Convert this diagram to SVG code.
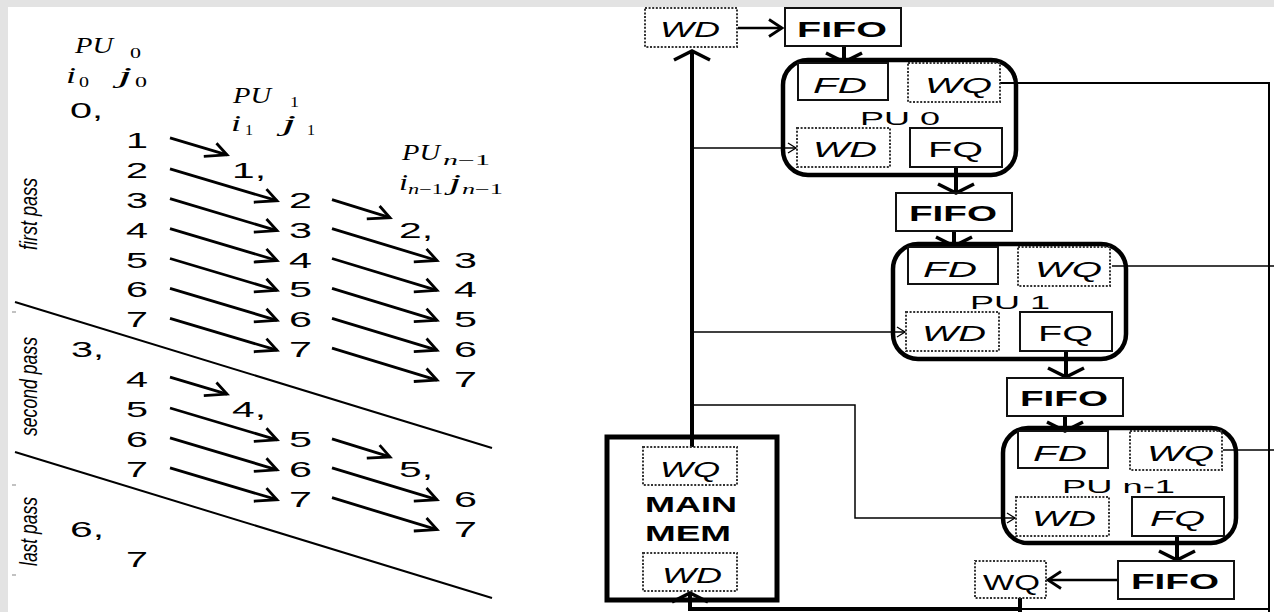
<svg xmlns="http://www.w3.org/2000/svg" width="1274" height="612" viewBox="0 0 1274 612">
<style>
.num{font-family:"Liberation Sans",Arial,sans-serif;font-size:22px;fill:#000}
.math{font-family:"Liberation Serif","Times New Roman",serif;font-style:italic;font-size:23px;fill:#000}
.sub{font-family:"Liberation Serif","Times New Roman",serif;font-size:14px;fill:#000}
.lbl{font-family:"Liberation Sans",Arial,sans-serif;font-style:italic;font-size:24px;fill:#000}
.it{font-family:"Liberation Sans",Arial,sans-serif;font-style:italic;font-size:22px;fill:#000}
.rg{font-family:"Liberation Sans",Arial,sans-serif;font-size:22px;fill:#000}
.pul{font-family:"Liberation Sans",Arial,sans-serif;font-size:19px;fill:#000}
.bd{font-family:"Liberation Sans",Arial,sans-serif;font-weight:bold;font-size:22px;fill:#000}
.dot{fill:none;stroke:#333;stroke-width:2;stroke-dasharray:2 1.6}
.solid{fill:none;stroke:#111;stroke-width:2}
.pu{fill:none;stroke:#000;stroke-width:4.5}
.mem{fill:none;stroke:#000;stroke-width:5}
.thick{fill:none;stroke:#000;stroke-width:4}
.thin{fill:none;stroke:#000;stroke-width:1.5}
.arr{fill:none;stroke:#000;stroke-width:2.8;marker-end:url(#la)}
.sep{fill:none;stroke:#000;stroke-width:2}
</style>
<defs>
<marker id="la" markerUnits="userSpaceOnUse" orient="auto" overflow="visible" refX="0" refY="0" markerWidth="1" markerHeight="1"><path d="M-13.4,-8.1 L0,0 L-21.8,8.1" fill="none" stroke="#000" stroke-width="2.8"/></marker>
<marker id="vh" markerUnits="userSpaceOnUse" orient="auto" overflow="visible" refX="0" refY="0" markerWidth="1" markerHeight="1"><path d="M-9,-18 L0,0 L-9,18" fill="none" stroke="#000" stroke-width="3.5"/></marker>
<marker id="hh" markerUnits="userSpaceOnUse" orient="auto" overflow="visible" refX="0" refY="0" markerWidth="1" markerHeight="1"><path d="M-13,-8.5 L0,0 L-13,8.5" fill="none" stroke="#000" stroke-width="2.8"/></marker>
<marker id="sh" markerUnits="userSpaceOnUse" orient="auto" overflow="visible" refX="0" refY="0" markerWidth="1" markerHeight="1"><path d="M-8,-5 L0,0 L-8,5" fill="none" stroke="#000" stroke-width="1.3"/></marker>
</defs>
<rect x="0" y="0" width="1274" height="612" fill="#e3e3e3"/>
<rect x="8" y="7" width="1266" height="605" fill="#fff"/>

<g id="schedule">
<g id="headers">
<text class="math" x="75" y="53" textLength="38" lengthAdjust="spacingAndGlyphs">PU</text>
<text class="sub" x="130" y="58" textLength="11" lengthAdjust="spacingAndGlyphs">0</text>
<text class="math" x="66" y="83" textLength="10" lengthAdjust="spacingAndGlyphs">i</text>
<text class="sub" x="79" y="87" textLength="10" lengthAdjust="spacingAndGlyphs">0</text>
<text class="math" x="118" y="83" textLength="14" lengthAdjust="spacingAndGlyphs">j</text>
<text class="sub" x="135" y="87" textLength="12" lengthAdjust="spacingAndGlyphs">0</text>
<text class="math" x="233" y="103" textLength="38" lengthAdjust="spacingAndGlyphs">PU</text>
<text class="sub" x="290" y="107" textLength="9" lengthAdjust="spacingAndGlyphs">1</text>
<text class="math" x="231" y="131" textLength="10" lengthAdjust="spacingAndGlyphs">i</text>
<text class="sub" x="245" y="135" textLength="8" lengthAdjust="spacingAndGlyphs">1</text>
<text class="math" x="282" y="131" textLength="14" lengthAdjust="spacingAndGlyphs">j</text>
<text class="sub" x="307" y="135" textLength="8" lengthAdjust="spacingAndGlyphs">1</text>
<text class="math" x="402" y="160" textLength="38" lengthAdjust="spacingAndGlyphs">PU</text>
<text class="sub" x="443" y="165" textLength="47" lengthAdjust="spacingAndGlyphs"><tspan font-style="italic">n</tspan>−1</text>
<text class="math" x="399" y="190" textLength="9" lengthAdjust="spacingAndGlyphs">i</text>
<text class="sub" x="408" y="194" textLength="35" lengthAdjust="spacingAndGlyphs"><tspan font-style="italic">n</tspan>−1</text>
<text class="math" x="449" y="190" textLength="12" lengthAdjust="spacingAndGlyphs">j</text>
<text class="sub" x="462" y="194" textLength="41" lengthAdjust="spacingAndGlyphs"><tspan font-style="italic">n</tspan>−1</text>
</g>
<g id="passes">
<text class="lbl" transform="translate(37,250) rotate(-90)" textLength="72" lengthAdjust="spacingAndGlyphs">first pass</text>
<text class="lbl" transform="translate(37,436) rotate(-90)" textLength="99" lengthAdjust="spacingAndGlyphs">second pass</text>
<text class="lbl" transform="translate(37,566) rotate(-90)" textLength="69" lengthAdjust="spacingAndGlyphs">last pass</text>
<line class="sep" x1="15" y1="302" x2="492" y2="448"/>
<line class="sep" x1="15" y1="452" x2="492" y2="598"/>
<g stroke="#999" stroke-width="1.2"><line x1="12" y1="312" x2="16" y2="312"/><line x1="12" y1="485" x2="16" y2="485"/><line x1="12" y1="575" x2="16" y2="575"/></g>
</g>
<g id="col0" class="num">
<text x="70" y="118" textLength="33" lengthAdjust="spacingAndGlyphs">0,</text>
<text x="126" y="147.9" textLength="22" lengthAdjust="spacingAndGlyphs">1</text>
<text x="126" y="177.8" textLength="22" lengthAdjust="spacingAndGlyphs">2</text>
<text x="126" y="207.7" textLength="22" lengthAdjust="spacingAndGlyphs">3</text>
<text x="126" y="237.6" textLength="22" lengthAdjust="spacingAndGlyphs">4</text>
<text x="126" y="267.5" textLength="22" lengthAdjust="spacingAndGlyphs">5</text>
<text x="126" y="297.4" textLength="22" lengthAdjust="spacingAndGlyphs">6</text>
<text x="126" y="327.3" textLength="22" lengthAdjust="spacingAndGlyphs">7</text>
<text x="71" y="357.2" textLength="33" lengthAdjust="spacingAndGlyphs">3,</text>
<text x="126" y="387.1" textLength="22" lengthAdjust="spacingAndGlyphs">4</text>
<text x="126" y="417" textLength="22" lengthAdjust="spacingAndGlyphs">5</text>
<text x="126" y="446.9" textLength="22" lengthAdjust="spacingAndGlyphs">6</text>
<text x="126" y="476.8" textLength="22" lengthAdjust="spacingAndGlyphs">7</text>
<text x="70" y="536.6" textLength="34" lengthAdjust="spacingAndGlyphs">6,</text>
<text x="126" y="566.5" textLength="22" lengthAdjust="spacingAndGlyphs">7</text>
</g>
<g id="col1" class="num">
<text x="232" y="177.8" textLength="34" lengthAdjust="spacingAndGlyphs">1,</text>
<text x="289" y="207.7" textLength="23" lengthAdjust="spacingAndGlyphs">2</text>
<text x="289" y="237.6" textLength="23" lengthAdjust="spacingAndGlyphs">3</text>
<text x="289" y="267.5" textLength="23" lengthAdjust="spacingAndGlyphs">4</text>
<text x="289" y="297.4" textLength="23" lengthAdjust="spacingAndGlyphs">5</text>
<text x="289" y="327.3" textLength="23" lengthAdjust="spacingAndGlyphs">6</text>
<text x="289" y="357.2" textLength="23" lengthAdjust="spacingAndGlyphs">7</text>
<text x="232" y="417" textLength="34" lengthAdjust="spacingAndGlyphs">4,</text>
<text x="289" y="446.9" textLength="23" lengthAdjust="spacingAndGlyphs">5</text>
<text x="289" y="476.8" textLength="23" lengthAdjust="spacingAndGlyphs">6</text>
<text x="289" y="506.7" textLength="23" lengthAdjust="spacingAndGlyphs">7</text>
</g>
<g id="col2" class="num">
<text x="399" y="237.6" textLength="34" lengthAdjust="spacingAndGlyphs">2,</text>
<text x="454" y="267.5" textLength="23" lengthAdjust="spacingAndGlyphs">3</text>
<text x="454" y="297.4" textLength="23" lengthAdjust="spacingAndGlyphs">4</text>
<text x="454" y="327.3" textLength="23" lengthAdjust="spacingAndGlyphs">5</text>
<text x="454" y="357.2" textLength="23" lengthAdjust="spacingAndGlyphs">6</text>
<text x="454" y="387.1" textLength="23" lengthAdjust="spacingAndGlyphs">7</text>
<text x="399" y="476.8" textLength="34" lengthAdjust="spacingAndGlyphs">5,</text>
<text x="454" y="506.7" textLength="23" lengthAdjust="spacingAndGlyphs">6</text>
<text x="454" y="536.6" textLength="23" lengthAdjust="spacingAndGlyphs">7</text>
</g>
<g id="schedule-arrows">
<path class="arr" d="M170,137.9 L227,154.9"/>
<path class="arr" d="M170,168.8 L277,200.7"/>
<path class="arr" d="M170,198.7 L277,230.6"/>
<path class="arr" d="M170,228.6 L277,260.5"/>
<path class="arr" d="M170,258.5 L277,290.4"/>
<path class="arr" d="M170,288.4 L277,320.3"/>
<path class="arr" d="M170,318.3 L277,350.2"/>
<path class="arr" d="M170,377.1 L227,394.1"/>
<path class="arr" d="M170,408 L277,439.9"/>
<path class="arr" d="M170,437.9 L277,469.8"/>
<path class="arr" d="M170,467.8 L277,499.7"/>
<path class="arr" d="M332,199.7 L390,217.7"/>
<path class="arr" d="M332,228.6 L437,260.5"/>
<path class="arr" d="M332,258.5 L437,290.4"/>
<path class="arr" d="M332,288.4 L437,320.3"/>
<path class="arr" d="M332,318.3 L437,350.2"/>
<path class="arr" d="M332,348.2 L437,380.1"/>
<path class="arr" d="M332,438.9 L390,456.9"/>
<path class="arr" d="M332,467.8 L437,499.7"/>
<path class="arr" d="M332,497.7 L437,529.6"/>
</g>
</g>

<g id="connectors">
<path class="thick" d="M692,447 L692,51" marker-end="url(#vh)"/>
<path class="thick" style="stroke-width:2.6" d="M738,28 L782,28" marker-end="url(#hh)"/>
<path class="thick" d="M844,46 L844,62" marker-end="url(#vh)"/>
<path class="thick" d="M956,167 L956,193" marker-end="url(#vh)"/>
<path class="thick" d="M954,231 L954,246" marker-end="url(#vh)"/>
<path class="thick" d="M1066,351 L1066,377" marker-end="url(#vh)"/>
<path class="thick" d="M1065,416 L1065,431" marker-end="url(#vh)"/>
<path class="thick" d="M1177,537 L1177,560" marker-end="url(#vh)"/>
<path class="thick" style="stroke-width:2.6" d="M1118,580 L1048,580" marker-end="url(#hh)"/>
<path class="thick" d="M1020,598 L1020,612"/>
<path class="thick" d="M1020,609 L690,609 L690,593" marker-end="url(#vh)"/>
<path class="thin" style="stroke-width:2" d="M1020,609 L1269,609"/>
<path class="thin" style="stroke-width:2" d="M1000,83 L1269,83 L1269,612"/>
<path class="thin" d="M1112,266 L1274,266"/>
<path class="thin" d="M1223,450 L1274,450"/>
<path class="thin" d="M692,148 L796,148" marker-end="url(#sh)"/>
<path class="thin" d="M692,332 L905,332" marker-end="url(#sh)"/>
<path class="thin" d="M692,405 L855,405 L855,518 L1015,518" marker-end="url(#sh)"/>
</g>

<g id="wd-top">
<rect class="dot" x="645" y="8" width="92" height="39"/>
<text class="it" x="660" y="37" textLength="60" lengthAdjust="spacingAndGlyphs">WD</text>
</g>
<g id="fifo-0" transform="translate(785,8)">
<rect class="solid" x="0" y="0" width="116" height="38"/>
<text class="bd" x="12" y="29" textLength="90" lengthAdjust="spacingAndGlyphs">FIFO</text>
</g>
<g id="fifo-1" transform="translate(896,193)">
<rect class="solid" x="0" y="0" width="116" height="38"/>
<text class="bd" x="13" y="28" textLength="88" lengthAdjust="spacingAndGlyphs">FIFO</text>
</g>
<g id="fifo-2" transform="translate(1007,378)">
<rect class="solid" x="0" y="0" width="116" height="38"/>
<text class="bd" x="13" y="28" textLength="88" lengthAdjust="spacingAndGlyphs">FIFO</text>
</g>
<g id="fifo-3" transform="translate(1118,561)">
<rect class="solid" x="0" y="0" width="116" height="38"/>
<text class="bd" x="13" y="28" textLength="88" lengthAdjust="spacingAndGlyphs">FIFO</text>
</g>

<g id="pu-0" transform="translate(783,60)">
<rect class="pu" x="0" y="0" width="233" height="115" rx="25"/>
<rect class="solid" x="15" y="3" width="90" height="37"/>
<text class="it" x="30" y="33" textLength="54" lengthAdjust="spacingAndGlyphs">FD</text>
<rect class="dot" x="125" y="3" width="92" height="39"/>
<text class="it" x="142" y="33" textLength="67" lengthAdjust="spacingAndGlyphs">WQ</text>
<text class="pul" x="77" y="65" textLength="80" lengthAdjust="spacingAndGlyphs">PU  0</text>
<rect class="dot" x="14" y="68" width="93" height="39"/>
<text class="it" x="30" y="97" textLength="64" lengthAdjust="spacingAndGlyphs">WD</text>
<rect class="solid" x="127" y="68" width="92" height="39"/>
<text class="rg" x="145" y="97" textLength="55" lengthAdjust="spacingAndGlyphs">FQ</text>
</g>
<g id="pu-1" transform="translate(893,244)">
<rect class="pu" x="0" y="0" width="233" height="115" rx="25"/>
<rect class="solid" x="15" y="3" width="90" height="37"/>
<text class="it" x="30" y="33" textLength="54" lengthAdjust="spacingAndGlyphs">FD</text>
<rect class="dot" x="125" y="3" width="92" height="39"/>
<text class="it" x="142" y="33" textLength="67" lengthAdjust="spacingAndGlyphs">WQ</text>
<text class="pul" x="77" y="65" textLength="80" lengthAdjust="spacingAndGlyphs">PU  1</text>
<rect class="dot" x="13" y="68" width="93" height="39"/>
<text class="it" x="29" y="97" textLength="64" lengthAdjust="spacingAndGlyphs">WD</text>
<rect class="solid" x="127" y="68" width="92" height="39"/>
<text class="rg" x="145" y="97" textLength="55" lengthAdjust="spacingAndGlyphs">FQ</text>
</g>
<g id="pu-n-1" transform="translate(1003,428)">
<rect class="pu" x="0" y="0" width="233" height="115" rx="25"/>
<rect class="solid" x="15" y="3" width="90" height="37"/>
<text class="it" x="30" y="33" textLength="54" lengthAdjust="spacingAndGlyphs">FD</text>
<rect class="dot" x="127" y="3" width="92" height="39"/>
<text class="it" x="144" y="33" textLength="67" lengthAdjust="spacingAndGlyphs">WQ</text>
<text class="pul" x="59" y="65" textLength="113" lengthAdjust="spacingAndGlyphs">PU  n-1</text>
<rect class="dot" x="13" y="69" width="93" height="39"/>
<text class="it" x="29" y="98" textLength="64" lengthAdjust="spacingAndGlyphs">WD</text>
<rect class="solid" x="129" y="69" width="92" height="39"/>
<text class="it" x="147" y="98" textLength="55" lengthAdjust="spacingAndGlyphs">FQ</text>
</g>

<g id="wq-bottom">
<rect class="dot" x="975" y="561" width="71" height="37"/>
<text class="rg" x="983" y="590" textLength="57" lengthAdjust="spacingAndGlyphs">WQ</text>
</g>

<g id="main-mem">
<rect class="mem" x="607" y="437" width="170" height="163"/>
<rect class="dot" x="643" y="447" width="94" height="38"/>
<text class="it" x="660" y="477" textLength="60" lengthAdjust="spacingAndGlyphs">WQ</text>
<text class="bd" x="645" y="512" textLength="92" lengthAdjust="spacingAndGlyphs">MAIN</text>
<text class="bd" x="645" y="541" textLength="86" lengthAdjust="spacingAndGlyphs">MEM</text>
<rect class="dot" x="643" y="553" width="94" height="38"/>
<text class="it" x="662" y="583" textLength="60" lengthAdjust="spacingAndGlyphs">WD</text>
</g>
</svg>
